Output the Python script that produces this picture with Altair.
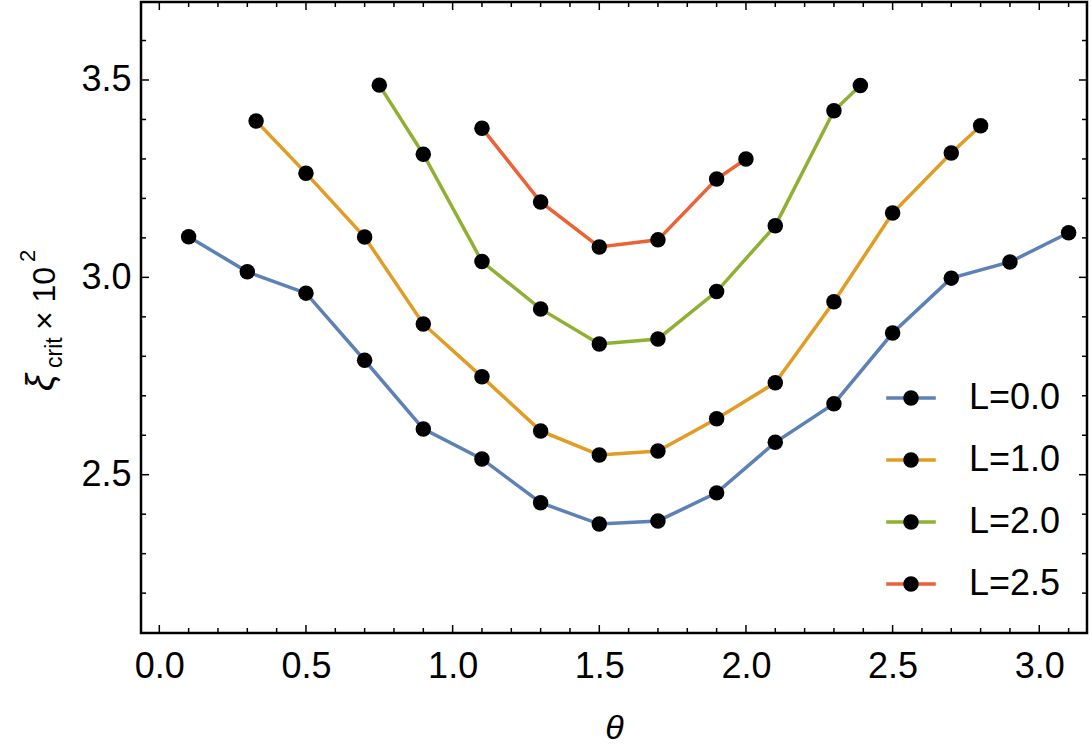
import altair as alt
import pandas as pd

# ---------------- data ----------------
labels = ["L=0.0", "L=1.0", "L=2.0", "L=2.5"]
colors = ["#5E81B5", "#E19C24", "#8FB032", "#EB6235"]

theta0 = [0.1, 0.3, 0.5, 0.7, 0.9, 1.1, 1.3, 1.5, 1.7, 1.9, 2.1, 2.3, 2.5, 2.7, 2.9, 3.1]
xi0 = [3.103, 3.014, 2.960, 2.790, 2.616, 2.540, 2.429, 2.375, 2.383, 2.454, 2.582, 2.680, 2.859, 2.998, 3.039, 3.113]

theta1 = [0.33, 0.5, 0.7, 0.9, 1.1, 1.3, 1.5, 1.7, 1.9, 2.1, 2.3, 2.5, 2.7, 2.8]
xi1 = [3.396, 3.264, 3.102, 2.882, 2.748, 2.611, 2.550, 2.560, 2.642, 2.733, 2.938, 3.163, 3.315, 3.384]

theta2 = [0.75, 0.9, 1.1, 1.3, 1.5, 1.7, 1.9, 2.1, 2.3, 2.39]
xi2 = [3.487, 3.312, 3.040, 2.920, 2.831, 2.844, 2.964, 3.131, 3.422, 3.486]

theta3 = [1.1, 1.3, 1.5, 1.7, 1.9, 2.0]
xi3 = [3.378, 3.191, 3.077, 3.095, 3.249, 3.300]

x_major = [0.0, 0.5, 1.0, 1.5, 2.0, 2.5, 3.0]
x_minor = [0.1, 0.2, 0.3, 0.4, 0.6, 0.7, 0.8, 0.9, 1.1, 1.2, 1.3, 1.4, 1.6, 1.7, 1.8, 1.9,
           2.1, 2.2, 2.3, 2.4, 2.6, 2.7, 2.8, 2.9, 3.1]
y_major = [2.5, 3.0, 3.5]
y_minor = [2.2, 2.3, 2.4, 2.6, 2.7, 2.8, 2.9, 3.1, 3.2, 3.3, 3.4, 3.6]

y_title_parts = ["ξ", "crit", "× 10", "2"]

# ---------------- build table ----------------
rows = []
for lab, th, xs in zip(labels, [theta0, theta1, theta2, theta3], [xi0, xi1, xi2, xi3]):
    for t, v in zip(th, xs):
        rows.append({"series": lab, "dots": lab, "theta": t, "xi": v})
df = pd.DataFrame(rows)

W, H = 946, 631
FONT = "Liberation Sans"
xscale = alt.Scale(domain=[-0.0624, 3.1627], nice=False, zero=False)
yscale = alt.Scale(domain=[2.099, 3.6976], nice=False, zero=False)

x_axis = alt.Axis(values=x_major, format=".1f", ticks=False, domain=False, grid=False,
                  labelFontSize=36, labelFont=FONT, labelColor="black", labelPadding=16,
                  titleFontSize=34, titleFont=FONT, titleFontStyle="italic",
                  titleFontWeight="normal", titleColor="black", titlePadding=27)
y_axis = alt.Axis(values=y_major, format=".1f", ticks=False, domain=False, grid=False,
                  labelFontSize=36, labelFont=FONT, labelColor="black", labelPadding=10)

legend_common = dict(orient="none", legendX=752, legendY=378, title=None, padding=0,
                     symbolSize=240, labelFontSize=36, labelFont=FONT, labelColor="black",
                     labelOffset=40, rowPadding=26, labelBaseline="middle")

lines = alt.Chart(df).mark_line(strokeWidth=3.5).encode(
    x=alt.X("theta:Q", scale=xscale, axis=x_axis, title="θ"),
    y=alt.Y("xi:Q", scale=yscale, axis=y_axis, title=None),
    color=alt.Color("series:N", scale=alt.Scale(domain=labels, range=colors),
                    legend=alt.Legend(symbolType="M-3.2,0L3.2,0", symbolStrokeWidth=3.5,
                                      **legend_common)),
)

points = alt.Chart(df).mark_point(filled=True, size=240, opacity=1, color="black").encode(
    x=alt.X("theta:Q", scale=xscale),
    y=alt.Y("xi:Q", scale=yscale),
    shape=alt.Shape("dots:N", scale=alt.Scale(domain=labels, range=["circle"] * 4),
                    legend=alt.Legend(symbolType="circle", symbolFillColor="black",
                                      symbolStrokeColor="black", symbolStrokeWidth=0,
                                      symbolOpacity=1, labelOpacity=0, **legend_common)),
)


def xticks(vals, L):
    c = alt.Chart(pd.DataFrame({"theta": vals})).mark_rule(color="black", strokeWidth=1.5)
    b = c.encode(x=alt.X("theta:Q", scale=xscale), y=alt.value(H), y2=alt.value(H - L))
    t = c.encode(x=alt.X("theta:Q", scale=xscale), y=alt.value(0), y2=alt.value(L))
    return [b, t]


def yticks(vals, L):
    c = alt.Chart(pd.DataFrame({"xi": vals})).mark_rule(color="black", strokeWidth=1.5)
    l = c.encode(y=alt.Y("xi:Q", scale=yscale), x=alt.value(0), x2=alt.value(L))
    r = c.encode(y=alt.Y("xi:Q", scale=yscale), x=alt.value(W - L), x2=alt.value(W))
    return [l, r]


def title_piece(txt, x, y, size, style="normal"):
    return alt.Chart(pd.DataFrame({"t": [txt]})).mark_text(
        angle=270, align="left", baseline="alphabetic", font=FONT, fontSize=size,
        fontStyle=style, color="black"
    ).encode(text="t:N", x=alt.value(x), y=alt.value(y))


titles = [
    title_piece(y_title_parts[0], -88, 389, 38, "italic"),
    title_piece(y_title_parts[1], -79, 366, 23),
    title_piece(y_title_parts[2], -86, 328, 32),
    title_piece(y_title_parts[3], -106, 260, 22),
]

chart = alt.layer(
    *xticks(x_major, 8), *xticks(x_minor, 5),
    *yticks(y_major, 8), *yticks(y_minor, 5),
    lines, points, *titles,
).properties(
    width=W, height=H,
    autosize=alt.AutoSizeParams(type="none"),
    padding={"left": 141, "top": 2, "right": 5, "bottom": 113},
    background="white",
).resolve_legend(
    color="independent", shape="independent"
).configure_view(
    stroke="black", strokeWidth=2.5
)

chart.save("out.html", embed_options={"renderer": "svg", "actions": False})
